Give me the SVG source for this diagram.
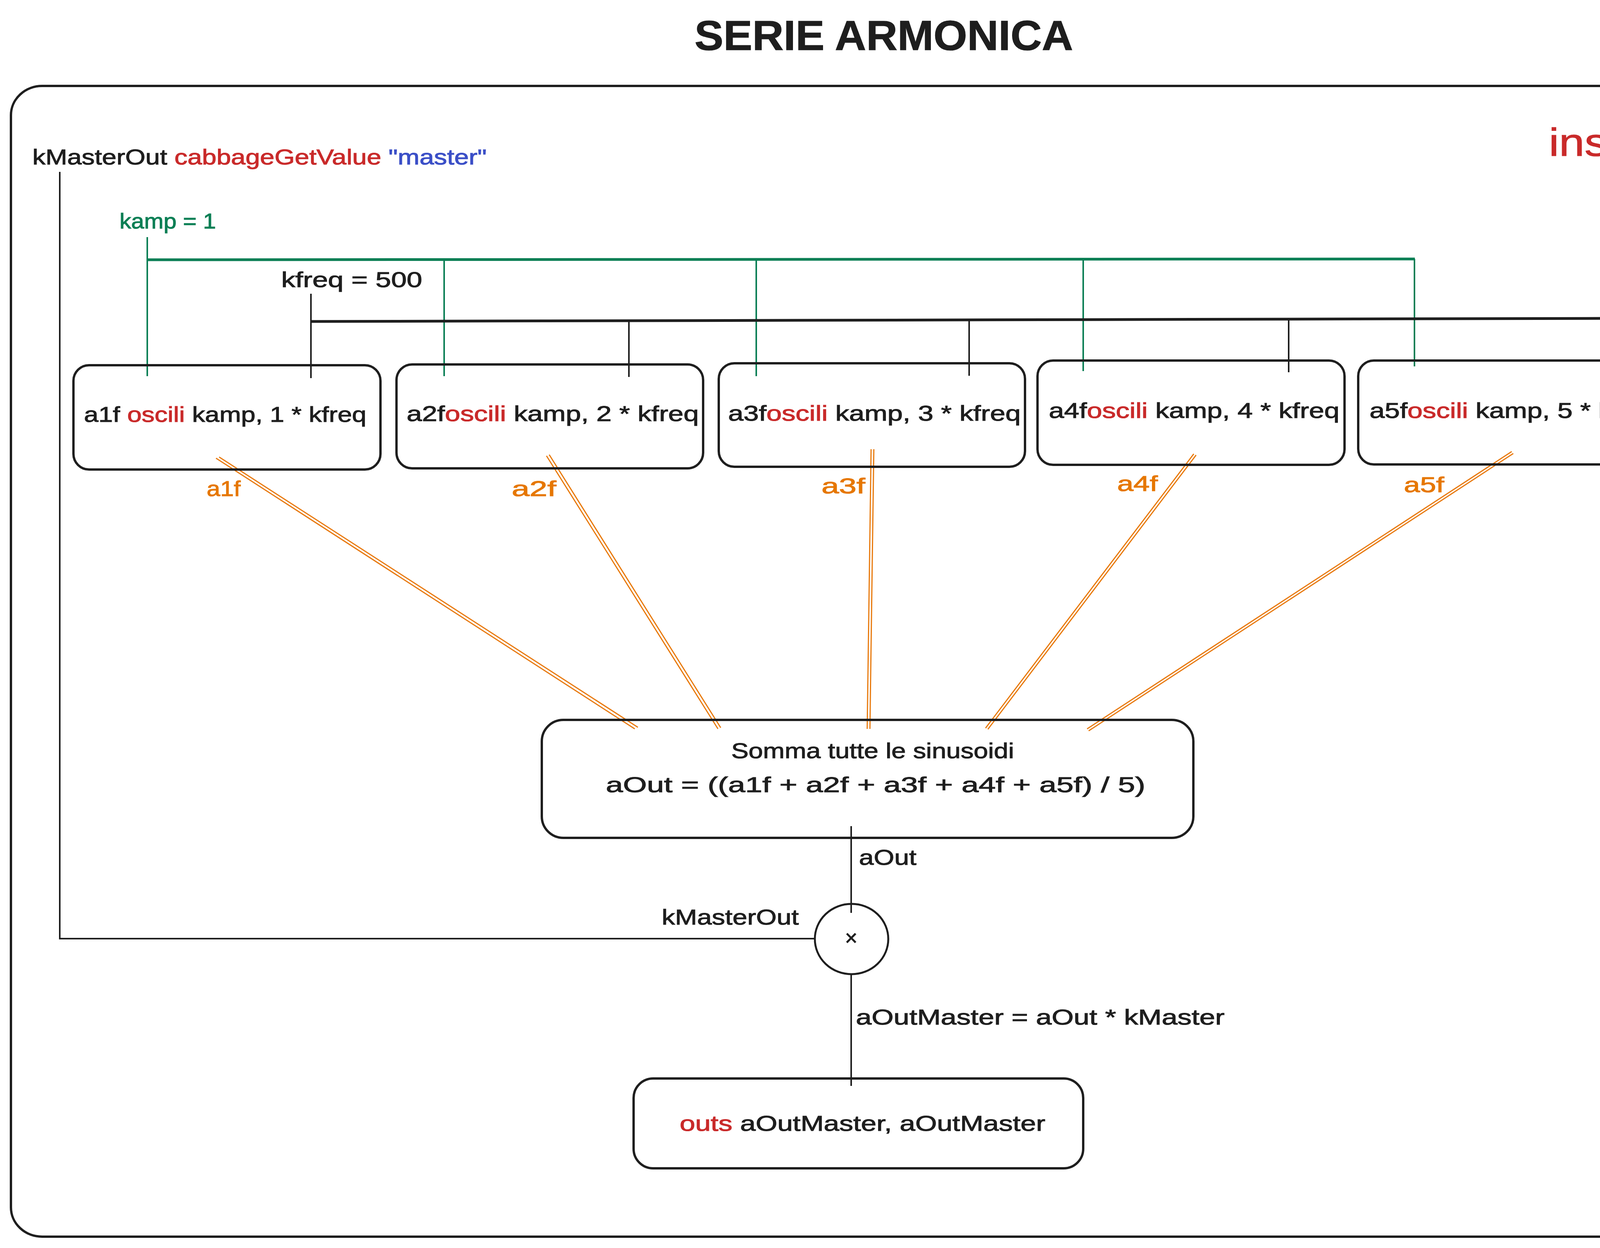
<svg xmlns="http://www.w3.org/2000/svg" width="4441" height="3195" viewBox="0 0 4441 3195">
<style>
.t{font-family:"Liberation Sans",Arial,sans-serif;fill:#1e1e1e;stroke:#1e1e1e;stroke-width:1.2;font-size:55px}
.red{fill:#c92a2a;stroke:#c92a2a}
.blue{fill:#3b4fc7;stroke:#3b4fc7}
.green{fill:#0b7f55;stroke:#0b7f55}
.orange{fill:#e67700;stroke:#e67700}
.box{fill:none;stroke:#1e1e1e;stroke-width:6}
.ln{stroke:#1e1e1e;stroke-width:4;fill:none}
.lnb{stroke:#1e1e1e;stroke-width:7;fill:none}
.gl{stroke:#0b7f55;stroke-width:4;fill:none}
.glb{stroke:#0b7f55;stroke-width:7;fill:none}
.ol{stroke:#e8790c;stroke-width:3;fill:none}
</style>
<rect width="4441" height="3195" fill="#ffffff"/>
<g id="title">
<text class="t" x="1778" y="128" font-weight="bold" textLength="969" lengthAdjust="spacingAndGlyphs" style="font-size:107px">SERIE ARMONICA</text>
</g>
<g id="frame">
<rect x="28" y="220" width="4382" height="2946" rx="80" ry="75" fill="none" stroke="#1e1e1e" stroke-width="6"/>
<text class="t red" x="3965" y="399" textLength="320" lengthAdjust="spacingAndGlyphs" style="font-size:100px">instr 1</text>
</g>
<g id="masterGet">
<text class="t" x="83" y="421" textLength="1163" lengthAdjust="spacingAndGlyphs">kMasterOut <tspan class="red">cabbageGetValue</tspan> <tspan class="blue">"master"</tspan></text>
</g>
<g id="kamp">
<text class="t green" x="306" y="585" textLength="247" lengthAdjust="spacingAndGlyphs">kamp = 1</text>
</g>
<g id="kfreq">
<text class="t" x="720" y="735" textLength="361" lengthAdjust="spacingAndGlyphs">kfreq = 500</text>
</g>
<g id="connectors">
<path class="ln" d="M153 440 L153 2403 L2085 2403"/>
<path class="glb" d="M377 665 L3622 663"/>
<path class="gl" d="M377 607 L377 963 M1137 665 L1137 963 M1936 664 L1936 963 M2773 664 L2773 950 M3621 663 L3621 938"/>
<path class="lnb" d="M796 823 L4121 815"/>
<path class="ln" d="M796 752 L796 968 M1610 821 L1610 965 M2481 819 L2481 962 M3299 817 L3299 953 M4120 815 L4120 955"/>
<path class="ol" d="M553 1173 L1625 1866 M1399 1167 L1838 1866 M2230 1150 L2220 1866 M3056 1162 L2523 1864 M3870 1156 L2783 1866"/>
<path class="ol" d="M561 1170 L1633 1862 M1406 1164 L1845 1863 M2237 1150 L2227 1866 M3062 1165 L2529 1867 M3874 1161 L2787 1871"/>
<path class="ln" d="M2179 2115 L2179 2337 M2179 2493 L2179 2780"/>
<text class="t orange" x="529" y="1270" textLength="87" lengthAdjust="spacingAndGlyphs">a1f</text>
<text class="t orange" x="1310" y="1270" textLength="114" lengthAdjust="spacingAndGlyphs">a2f</text>
<text class="t orange" x="2103" y="1263" textLength="112" lengthAdjust="spacingAndGlyphs">a3f</text>
<text class="t orange" x="2860" y="1257" textLength="104" lengthAdjust="spacingAndGlyphs">a4f</text>
<text class="t orange" x="3594" y="1260" textLength="103" lengthAdjust="spacingAndGlyphs">a5f</text>
<text class="t" x="2199" y="2214" textLength="147" lengthAdjust="spacingAndGlyphs">aOut</text>
<text class="t" x="1694" y="2367" textLength="351" lengthAdjust="spacingAndGlyphs">kMasterOut</text>
<text class="t" x="2191" y="2623" textLength="944" lengthAdjust="spacingAndGlyphs">aOutMaster = aOut * kMaster</text>
</g>
<g id="osc1">
<rect class="box" x="188" y="935" width="786" height="267" rx="40"/>
<text class="t" x="215" y="1080" textLength="723" lengthAdjust="spacingAndGlyphs">a1f <tspan class="red">oscili</tspan> kamp, 1 * kfreq</text>
</g>
<g id="osc2">
<rect class="box" x="1015" y="933" width="785" height="266" rx="40"/>
<text class="t" x="1041" y="1078" textLength="748" lengthAdjust="spacingAndGlyphs">a2f<tspan class="red">oscili</tspan> kamp, 2 * kfreq</text>
</g>
<g id="osc3">
<rect class="box" x="1840" y="930" width="784" height="265" rx="40"/>
<text class="t" x="1864" y="1077" textLength="749" lengthAdjust="spacingAndGlyphs">a3f<tspan class="red">oscili</tspan> kamp, 3 * kfreq</text>
</g>
<g id="osc4">
<rect class="box" x="2656" y="923" width="786" height="267" rx="40"/>
<text class="t" x="2685" y="1070" textLength="744" lengthAdjust="spacingAndGlyphs">a4f<tspan class="red">oscili</tspan> kamp, 4 * kfreq</text>
</g>
<g id="osc5">
<rect class="box" x="3477" y="923" width="786" height="266" rx="40"/>
<text class="t" x="3506" y="1070" textLength="741" lengthAdjust="spacingAndGlyphs">a5f<tspan class="red">oscili</tspan> kamp, 5 * kfreq</text>
</g>
<g id="sum">
<rect class="box" x="1387" y="1843" width="1668" height="302" rx="55"/>
<text class="t" x="1872" y="1941" textLength="724" lengthAdjust="spacingAndGlyphs">Somma tutte le sinusoidi</text>
<text class="t" x="1551" y="2028" textLength="1381" lengthAdjust="spacingAndGlyphs">aOut = ((a1f + a2f + a3f + a4f + a5f) / 5)</text>
</g>
<g id="mult">
<ellipse cx="2180" cy="2404" rx="94" ry="90" fill="none" stroke="#1e1e1e" stroke-width="5"/>
<text class="t" x="2179" y="2420" text-anchor="middle" style="font-size:55px">×</text>
</g>
<g id="outs">
<rect class="box" x="1622" y="2761" width="1151" height="230" rx="50"/>
<text class="t" x="1740" y="2895" textLength="936" lengthAdjust="spacingAndGlyphs"><tspan class="red">outs</tspan> aOutMaster, aOutMaster</text>
</g>
</svg>
